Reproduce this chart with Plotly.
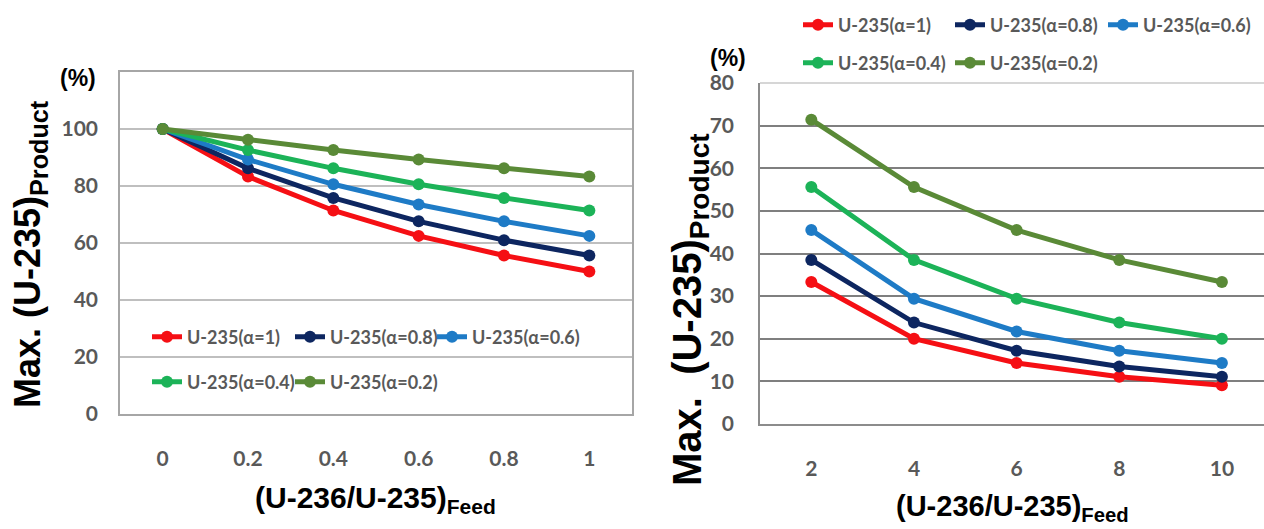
import plotly.graph_objects as go

# ---------------- data ----------------
series_names = ["U-235(α=1)", "U-235(α=0.8)", "U-235(α=0.6)", "U-235(α=0.4)", "U-235(α=0.2)"]
colors = ["#f50f14", "#0d2660", "#1e7bc6", "#1cb358", "#5a8a37"]

x_left = [0, 0.2, 0.4, 0.6, 0.8, 1]
x_left_labels = ["0", "0.2", "0.4", "0.6", "0.8", "1"]
left_a1 = [100, 83.3, 71.4, 62.5, 55.6, 50.0]
left_a08 = [100, 86.2, 75.8, 67.6, 61.0, 55.6]
left_a06 = [100, 89.3, 80.6, 73.5, 67.6, 62.5]
left_a04 = [100, 92.6, 86.2, 80.6, 75.8, 71.4]
left_a02 = [100, 96.2, 92.6, 89.3, 86.2, 83.3]

x_right = [2, 4, 6, 8, 10]
x_right_labels = ["2", "4", "6", "8", "10"]
right_a1 = [33.3, 20.0, 14.3, 11.1, 9.1]
right_a08 = [38.5, 23.8, 17.2, 13.5, 11.1]
right_a06 = [45.5, 29.4, 21.7, 17.2, 14.3]
right_a04 = [55.6, 38.5, 29.4, 23.8, 20.0]
right_a02 = [71.4, 55.6, 45.5, 38.5, 33.3]

left_ticks = [0, 20, 40, 60, 80, 100]
right_ticks = [0, 10, 20, 30, 40, 50, 60, 70, 80]

left_series = [left_a1, left_a08, left_a06, left_a04, left_a02]
right_series = [right_a1, right_a08, right_a06, right_a04, right_a02]

W, H = 1264, 529
TICK_FONT = dict(family="Lato, Roboto, sans-serif", size=21, color="#595959", weight="bold")
LEG_FONT = dict(family="Lato, Roboto, sans-serif", size=18, color="#595959", weight="bold")
TITLE_FAMILY = "Liberation Sans, Arial, sans-serif"


def px_x(p):
    return p / W


def px_y(p):
    return 1 - p / H


fig = go.Figure()

# legend placement (pixel positions of each legend entry, left panel then right panel)
left_leg_pos = [(147, 337), (290, 337), (432, 337), (147, 382), (290, 382)]
right_leg_pos = [(798, 25), (950, 25), (1103, 25), (798, 63), (950, 63)]

legend_common = dict(orientation="h", bgcolor="rgba(0,0,0,0)", font=LEG_FONT,
                     xanchor="left", yanchor="middle", itemwidth=30,
                     borderwidth=0, tracegroupgap=0)

legend_layout = {}
for i, name in enumerate(series_names):
    lid = "legend" if i == 0 else f"legend{i + 1}"
    legend_layout[lid] = dict(legend_common, x=px_x(left_leg_pos[i][0]), y=px_y(left_leg_pos[i][1]))
    fig.add_trace(go.Scatter(
        x=x_left, y=left_series[i], name=name, mode="lines+markers",
        line=dict(color=colors[i], width=5),
        marker=dict(color=colors[i], size=12),
        xaxis="x", yaxis="y", legend=lid))
for i, name in enumerate(series_names):
    lid = f"legend{i + 6}"
    legend_layout[lid] = dict(legend_common, x=px_x(right_leg_pos[i][0]), y=px_y(right_leg_pos[i][1]))
    fig.add_trace(go.Scatter(
        x=x_right, y=right_series[i], name=name, mode="lines+markers",
        line=dict(color=colors[i], width=5),
        marker=dict(color=colors[i], size=12),
        xaxis="x2", yaxis="y2", legend=lid))

fig.update_layout(
    width=W, height=H,
    margin=dict(l=0, r=0, t=0, b=0, pad=0, autoexpand=False),
    paper_bgcolor="white", plot_bgcolor="white",
    showlegend=True,
    xaxis=dict(domain=[px_x(120), px_x(632)], range=[-0.1, 1.1],
               tickvals=x_left, ticktext=x_left_labels, showgrid=False,
               showline=True, linecolor="#a6a6a6", linewidth=1.5, mirror=True,
               ticks="", ticklabelstandoff=25, tickfont=TICK_FONT, zeroline=False,
               automargin=False, anchor="y"),
    yaxis=dict(domain=[px_y(414), px_y(72)], range=[0, 120],
               tickvals=left_ticks, showgrid=True, gridcolor="#bfbfbf", gridwidth=1.5,
               showline=True, linecolor="#a6a6a6", linewidth=1.5, mirror=True,
               ticks="", ticklabelstandoff=16, tickfont=TICK_FONT, zeroline=False,
               automargin=False, anchor="x"),
    xaxis2=dict(domain=[px_x(760), 1.0], range=[1, 10.82],
                tickvals=x_right, ticktext=x_right_labels, showgrid=False,
                showline=True, linecolor="#8c8c8c", linewidth=1.5,
                ticks="", ticklabelstandoff=25, tickfont=TICK_FONT, zeroline=False,
                automargin=False, anchor="y2"),
    yaxis2=dict(domain=[px_y(424), px_y(83)], range=[0, 80],
                tickvals=right_ticks, showgrid=True, gridcolor="#7f7f7f", gridwidth=1.5,
                showline=True, linecolor="#8c8c8c", linewidth=1.5,
                ticks="", ticklabelstandoff=20, tickfont=TICK_FONT, zeroline=False,
                automargin=False, anchor="x2"),
    **legend_layout,
)

# light top border on right plot
fig.add_shape(type="line", xref="x2 domain", yref="y2 domain", x0=0, x1=1, y0=1, y1=1,
              line=dict(color="#c8c8c8", width=1.5), layer="above")


def ann(text, x, y, size, angle=0):
    fig.add_annotation(text=text, x=px_x(x), y=px_y(y), xref="paper", yref="paper",
                       showarrow=False, textangle=angle, xanchor="center", yanchor="middle",
                       font=dict(family=TITLE_FAMILY, size=size, color="black", weight="bold"))


ann("(U-236/U-235)<sub>Feed</sub>", 376, 499, 30)
ann("Max. (U-235)<sub>Product</sub>", 30, 254, 36, angle=-90)
ann("(%)", 78, 78, 23)

ann("(U-236/U-235)<sub>Feed</sub>", 1012, 508, 29)
ann("Max.\u00a0\u00a0(U-235)<sub>Product</sub>", 690, 310, 40, angle=-90)
ann("(%)", 728, 58, 23)

fig.write_html("out.html")
